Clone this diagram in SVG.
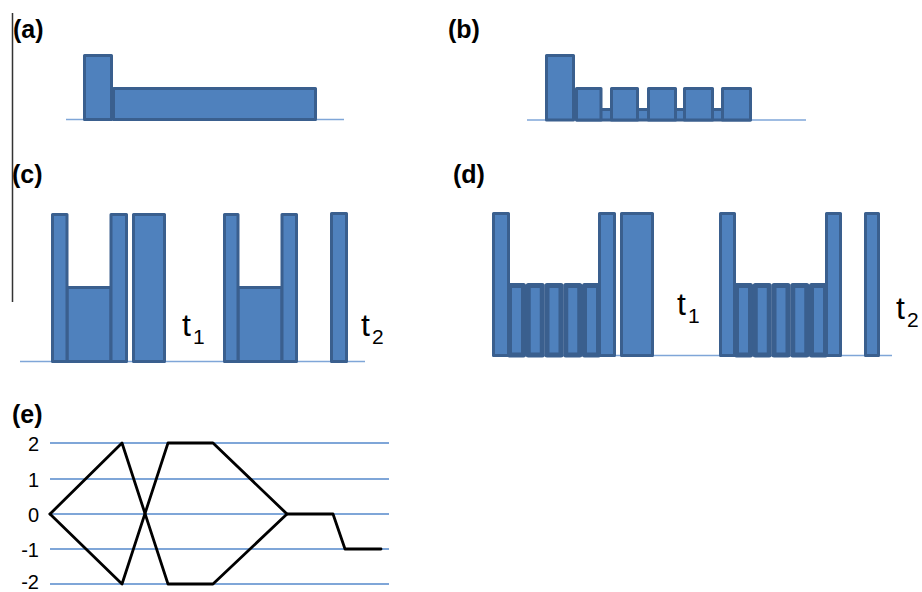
<svg xmlns="http://www.w3.org/2000/svg" width="922" height="592" viewBox="0 0 922 592">
  <style>
    .bar { fill: #4f81bd; stroke: #3a5f8e; stroke-width: 3; stroke-linejoin: round; }
    .thin { fill: #4f81bd; stroke: #3a5f8e; stroke-width: 5; stroke-linejoin: round; }
    .base { stroke: #7fa6d8; stroke-width: 1.6; fill: none; }
    .grid { stroke: #7fa6d8; stroke-width: 1.8; fill: none; }
    .lbl { font-family: "Liberation Sans", Arial, sans-serif; font-weight: bold; font-size: 25px; fill: #000; }
    .t { font-family: "Liberation Sans", Arial, sans-serif; font-size: 32px; fill: #000; }
    .sub { font-size: 21px; }
    .tick { font-family: "Liberation Sans", Arial, sans-serif; font-size: 20px; fill: #000; text-anchor: end; }
    .trace { stroke: #000; stroke-width: 2.8; fill: none; stroke-linejoin: round; stroke-linecap: round; }
  </style>

  <!-- margin rule -->
  <line x1="12.5" y1="13" x2="12.5" y2="302" stroke="#333" stroke-width="1.5"/>

  <!-- panel a -->
  <g id="panel-a">
    <text class="lbl" x="13" y="38">(a)</text>
    <line class="base" x1="66" y1="119.5" x2="344" y2="119.5"/>
    <g id="a-long"><rect class="bar" x="113.5" y="88.5" width="202" height="31"/></g>
    <g id="a-tall"><rect class="bar" x="84.5" y="55.5" width="27" height="64"/></g>
  </g>

  <!-- panel b -->
  <g id="panel-b">
    <text class="lbl" x="448" y="38">(b)</text>
    <line class="base" x1="527" y1="120" x2="806" y2="120"/>
    <g id="b-link"><rect class="bar" x="577" y="109.5" width="173" height="10.5"/></g>
    <g id="b-tall"><rect class="bar" x="546.5" y="55.5" width="27" height="64.5"/></g>
    <g id="b-1"><rect class="bar" x="576.5" y="88.5" width="24.5" height="31.5"/></g>
    <g id="b-2"><rect class="bar" x="611.5" y="88.5" width="26" height="31.5"/></g>
    <g id="b-3"><rect class="bar" x="648.5" y="88.5" width="27" height="31.5"/></g>
    <g id="b-4"><rect class="bar" x="684.5" y="88.5" width="28" height="31.5"/></g>
    <g id="b-5"><rect class="bar" x="722.5" y="88.5" width="28" height="31.5"/></g>
  </g>

  <!-- panel c -->
  <g id="panel-c">
    <text class="lbl" x="12" y="183">(c)</text>
    <line class="base" x1="20" y1="361.5" x2="365" y2="361.5"/>
    <g id="c-mid-1"><rect class="bar" x="67" y="287.5" width="44" height="74"/></g>
    <g id="c-left-1"><rect class="bar" x="52.5" y="214.5" width="14.5" height="147"/></g>
    <g id="c-right-1"><rect class="bar" x="111" y="214.5" width="15.5" height="147"/></g>
    <g id="c-wide"><rect class="bar" x="133.5" y="214.5" width="31" height="147"/></g>
    <g id="c-mid-2"><rect class="bar" x="238" y="287.5" width="44" height="74"/></g>
    <g id="c-left-2"><rect class="bar" x="224.5" y="214.5" width="13.5" height="147"/></g>
    <g id="c-right-2"><rect class="bar" x="282" y="214.5" width="14.5" height="147"/></g>
    <g id="c-single"><rect class="bar" x="331.5" y="213.5" width="15" height="148"/></g>
    <text class="t" x="182" y="336">t<tspan class="sub" x="193" y="344">1</tspan></text>
    <text class="t" x="361" y="336">t<tspan class="sub" x="372" y="344">2</tspan></text>
  </g>

  <!-- panel d -->
  <g id="panel-d">
    <text class="lbl" x="453" y="183">(d)</text>
    <line class="base" x1="492" y1="355.5" x2="892" y2="355.5"/>
    <g id="d-mid-1">
      <rect class="thin" x="509.5" y="285.5" width="14" height="69.5"/>
      <rect class="thin" x="528.25" y="285.5" width="14" height="69.5"/>
      <rect class="thin" x="547" y="285.5" width="14" height="69.5"/>
      <rect class="thin" x="565.75" y="285.5" width="14" height="69.5"/>
      <rect class="thin" x="584.5" y="285.5" width="14" height="69.5"/>
    </g>
    <g id="d-left-1"><rect class="bar" x="493.5" y="213.5" width="15" height="142"/></g>
    <g id="d-right-1"><rect class="bar" x="599.5" y="213.5" width="15" height="142"/></g>
    <g id="d-wide"><rect class="bar" x="621.5" y="213.5" width="31" height="142"/></g>
    <g id="d-mid-2">
      <rect class="thin" x="736.5" y="285.5" width="14" height="69.5"/>
      <rect class="thin" x="755.25" y="285.5" width="14" height="69.5"/>
      <rect class="thin" x="774" y="285.5" width="14" height="69.5"/>
      <rect class="thin" x="792.75" y="285.5" width="14" height="69.5"/>
      <rect class="thin" x="811.5" y="285.5" width="14" height="69.5"/>
    </g>
    <g id="d-left-2"><rect class="bar" x="720.5" y="213.5" width="14" height="142"/></g>
    <g id="d-right-2"><rect class="bar" x="826.5" y="213.5" width="14" height="142"/></g>
    <g id="d-single"><rect class="bar" x="865.5" y="213.5" width="13" height="142"/></g>
    <text class="t" x="677" y="315">t<tspan class="sub" x="688" y="323">1</tspan></text>
    <text class="t" x="896" y="319">t<tspan class="sub" x="907" y="327">2</tspan></text>
  </g>

  <!-- panel e -->
  <g id="panel-e">
    <text class="lbl" x="12" y="423">(e)</text>
    <g id="e-grid">
      <line class="grid" x1="50" y1="443" x2="389" y2="443"/>
      <line class="grid" x1="50" y1="479" x2="389" y2="479"/>
      <line class="grid" x1="50" y1="514" x2="389" y2="514"/>
      <line class="grid" x1="50" y1="549" x2="389" y2="549"/>
      <line class="grid" x1="50" y1="584" x2="389" y2="584"/>
    </g>
    <g id="e-ticks">
      <text class="tick" x="39" y="451">2</text>
      <text class="tick" x="39" y="487">1</text>
      <text class="tick" x="39" y="522">0</text>
      <text class="tick" x="39" y="557">-1</text>
      <text class="tick" x="39" y="589">-2</text>
    </g>
    <g id="connectors">
      <polyline class="trace" points="50,514 122,443 168,584 213,584 287,514 333,514 345,549 381,549"/>
      <polyline class="trace" points="50,514 122,584 168,443 213,443 287,514"/>
    </g>
  </g>
</svg>
